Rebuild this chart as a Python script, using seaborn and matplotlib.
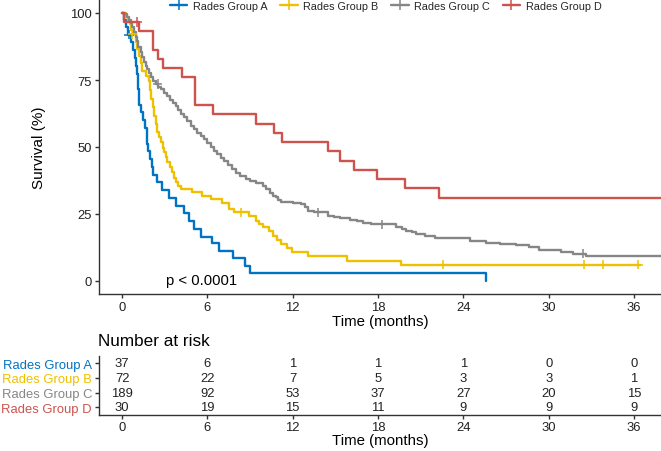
import matplotlib
matplotlib.use("Agg")
import matplotlib.pyplot as plt
from matplotlib.lines import Line2D
import seaborn as sns
import pandas as pd

# ---------------- data ----------------
groups = ["Rades Group A", "Rades Group B", "Rades Group C", "Rades Group D"]
colors = ["#0073C2", "#EFC000", "#868686", "#CD534C"]

# Kaplan-Meier step curves: time (months) and survival (%) after each step
a_time = [0, 0.15, 0.3, 0.4, 0.6, 0.75, 0.9, 0.96, 1.05, 1.12, 1.19, 1.35, 1.5, 1.62, 1.73,
          1.85, 1.97, 2.1, 2.2, 2.48, 2.83, 3.3, 3.77, 4.36, 4.7, 5.06, 5.53, 6.35, 6.8, 7.8,
          8.65, 9.0, 25.6]
a_surv = [100, 97.3, 94.6, 91.9, 89.0, 86.1, 83.2, 80.3, 77.4, 71.6, 65.8, 62.9, 60.0, 57.1, 51.3,
          48.4, 45.5, 42.6, 39.7, 36.8, 33.9, 31.0, 28.1, 25.2, 22.3, 19.4, 16.5, 14.0, 11.2, 8.4,
          5.6, 2.8, 0.0]

b_time = [0, 0.25, 0.4, 0.55, 0.65, 0.8, 0.96, 1.08, 1.19, 1.3, 1.43, 1.66, 1.9, 1.98, 2.06,
          2.15, 2.25, 2.37, 2.48, 2.6, 2.72, 2.85, 2.95, 3.07, 3.18, 3.35, 3.53, 3.65, 3.77,
          3.95, 4.12, 4.94, 5.6, 6.23, 7.0, 7.5, 7.85, 8.9, 9.4, 9.65, 9.93, 10.3, 10.63,
          10.9, 11.2, 11.6, 11.95, 13.1, 15.8, 19.65, 36.45]
b_surv = [100, 98.6, 97.2, 95.8, 93.6, 92.2, 89.0, 86.5, 84.0, 81.2, 78.5, 76.6, 74.7, 71.3, 67.9,
          64.8, 61.7, 58.6, 55.5, 53.6, 51.7, 49.8, 48.0, 46.1, 44.3, 42.4, 40.5, 38.6, 36.8,
          35.5, 34.3, 33.1, 31.8, 30.6, 29.2, 27.0, 25.6, 24.2, 22.5, 21.3, 20.0, 18.5, 16.9,
          15.4, 13.8, 12.3, 10.7, 9.2, 7.6, 6.1, 6.1]

c_time = [0, 0.2, 0.35, 0.5, 0.6, 0.7, 0.84, 0.95, 1.05, 1.15, 1.3, 1.42, 1.55, 1.68, 1.78,
          1.9, 2.05, 2.2, 2.37, 2.55, 2.72, 2.95, 3.18, 3.4, 3.6, 3.77, 3.95, 4.15, 4.36, 4.6,
          4.85, 5.06, 5.3, 5.55, 5.76, 6.0, 6.25, 6.47, 6.7, 6.95, 7.17, 7.45, 7.75, 8.0, 8.3,
          8.7, 9.0, 9.45, 9.93, 10.1, 10.4, 10.6, 10.8, 11.0, 11.15, 12.0, 12.6, 12.85, 13.1,
          13.5, 14.5, 14.9, 15.3, 16.0, 16.5, 16.96, 17.5, 19.3, 19.7, 20.0, 20.4, 20.7, 21.3,
          22.0, 24.5, 25.6, 26.6, 27.7, 28.6, 29.3, 30.9, 31.7, 32.65, 40.0]
c_surv = [100, 99.5, 98.4, 97.3, 96.2, 94.6, 92.8, 91.0, 89.4, 87.3, 85.3, 83.4, 81.6, 80.2, 79.1,
          77.5, 76.0, 74.6, 73.5, 72.4, 71.6, 70.2, 69.1, 67.6, 66.5, 65.4, 63.9, 62.5, 61.1, 59.6,
          58.0, 56.7, 55.3, 54.1, 53.0, 51.5, 50.0, 48.6, 47.3, 46.0, 44.9, 43.2, 41.8, 40.4, 39.3,
          38.2, 37.4, 36.4, 35.6, 34.3, 33.0, 31.9, 31.2, 30.1, 29.4, 29.1, 28.7, 27.6, 26.2,
          25.6, 24.4, 23.9, 23.4, 22.9, 22.3, 21.6, 21.2, 20.0, 19.4, 18.8, 18.2, 17.5, 16.8,
          15.9, 15.0, 14.1, 13.8, 13.4, 12.6, 11.7, 10.7, 10.2, 9.4, 9.4]

d_time = [0, 0.15, 1.2, 2.2, 2.55, 2.86, 4.2, 5.13, 6.4, 9.4, 10.7, 11.25, 14.5, 15.3, 16.3,
          17.9, 19.9, 22.3, 40.0]
d_surv = [100, 96.7, 93.2, 86.3, 82.9, 79.4, 76.0, 65.6, 62.2, 58.7, 55.3, 51.8, 48.4, 44.9, 41.5,
          38.0, 34.6, 31.1, 31.1]

# censoring marks
a_cens_t = [0.5]
a_cens_s = [91.9]
b_cens_t = [0.73, 8.4, 22.6, 32.5, 33.8, 36.3]
b_cens_s = [92.2, 25.6, 6.1, 6.1, 6.1, 6.1]
c_cens_t = [2.5, 13.8, 18.25, 32.4]
c_cens_s = [73.5, 25.6, 21.2, 10.2]
d_cens_t = [1.05]
d_cens_s = [96.7]

# number at risk table
risk_times = [0, 6, 12, 18, 24, 30, 36]
risk_a = [37, 6, 1, 1, 1, 0, 0]
risk_b = [72, 22, 7, 5, 3, 3, 1]
risk_c = [189, 92, 53, 37, 27, 20, 15]
risk_d = [30, 19, 15, 11, 9, 9, 9]

x_ticks = [0, 6, 12, 18, 24, 30, 36]
y_ticks = [0, 25, 50, 75, 100]
p_text = "p < 0.0001"

# ---------------- build frames ----------------
curves = pd.concat([
    pd.DataFrame({"time": t, "surv": s, "group": g})
    for t, s, g in zip([a_time, b_time, c_time, d_time],
                       [a_surv, b_surv, c_surv, d_surv], groups)
], ignore_index=True)
cens = pd.concat([
    pd.DataFrame({"time": t, "surv": s, "group": g})
    for t, s, g in zip([a_cens_t, b_cens_t, c_cens_t, d_cens_t],
                       [a_cens_s, b_cens_s, c_cens_s, d_cens_s], groups)
], ignore_index=True)
palette = dict(zip(groups, colors))

# ---------------- style ----------------
sns.set_theme(style="ticks")
plt.rcParams["font.family"] = ["Liberation Sans", "DejaVu Sans"]
axis_col = "#333333"

W, H = 661, 452
fig = plt.figure(figsize=(W / 100, H / 100), dpi=100)

# main KM panel
ax = fig.add_axes([99 / W, 1 - 295.4 / H, (W - 99) / W, (295.4 - 0.6) / H])
sns.lineplot(data=curves, x="time", y="surv", hue="group", palette=palette,
             estimator=None, sort=False, drawstyle="steps-post", linewidth=1.7,
             legend=False, ax=ax)
sns.scatterplot(data=cens, x="time", y="surv", hue="group", palette=palette,
                marker="+", s=45, linewidth=1.1, legend=False, ax=ax, zorder=3)
ax.set_xlim(-1.62, 37.9)
ax.set_ylim(-5, 105)
ax.set_xticks(x_ticks)
ax.set_yticks(y_ticks)
ax.set_xticklabels([str(v) for v in x_ticks])
ax.set_yticklabels([str(v) for v in y_ticks])
ax.set_xlabel("Time (months)", fontsize=10.8, color="black")
ax.set_ylabel("Survival (%)", fontsize=11, color="black")
ax.xaxis.set_label_coords(0.5, -0.068)
ax.yaxis.set_label_coords(-0.095, 0.5)
for sp in ["top", "right"]:
    ax.spines[sp].set_visible(False)
for sp in ["left", "bottom"]:
    ax.spines[sp].set_color(axis_col)
    ax.spines[sp].set_linewidth(1.0)
ax.tick_params(axis="both", length=3.2, width=1.0, color=axis_col, labelsize=9.4,
               labelcolor="#222222", pad=1.8)
ax.text(3.1, 0.2, p_text, fontsize=10.7, ha="left", va="center", color="black")

handles = [Line2D([0], [0], color=c, lw=1.7, marker="+", markersize=7, markeredgewidth=1.1)
           for c in colors]
ax.legend(handles, groups, loc="upper center", bbox_to_anchor=(0.51, 1.01), ncol=4,
          frameon=False, fontsize=7.8, handlelength=1.6, handletextpad=0.5,
          columnspacing=1.2, borderaxespad=0.0)

# risk table
tab = fig.add_axes([99 / W, 1 - 415.5 / H, (W - 99) / W, 58.4 / H])
tab.set_xlim(-1.62, 37.9)
tab.set_ylim(4.5, 0.5)
for row, vals in enumerate([risk_a, risk_b, risk_c, risk_d], start=1):
    for t, v in zip(risk_times, vals):
        tab.text(t, row, str(v), ha="center", va="center", fontsize=9.4, color="#222222")
tab.set_yticks([1, 2, 3, 4])
tab.set_yticklabels(groups)
tab.set_xticks(x_ticks)
tab.set_xticklabels([str(v) for v in x_ticks])
tab.set_xlabel("Time (months)", fontsize=10.8, color="black")
tab.xaxis.set_label_coords(0.5, -0.31)
for sp in ["top", "right"]:
    tab.spines[sp].set_visible(False)
for sp in ["left", "bottom"]:
    tab.spines[sp].set_color(axis_col)
    tab.spines[sp].set_linewidth(1.0)
tab.tick_params(axis="both", length=3.2, width=1.0, color=axis_col, labelsize=9.4,
                labelcolor="#222222", pad=1.8)
for lbl, c in zip(tab.get_yticklabels(), colors):
    lbl.set_color(c)

fig.text(98 / W, 1 - 342 / H, "Number at risk", fontsize=12.3, ha="left", va="center",
         color="black")

fig.savefig("out.png", dpi=100)
